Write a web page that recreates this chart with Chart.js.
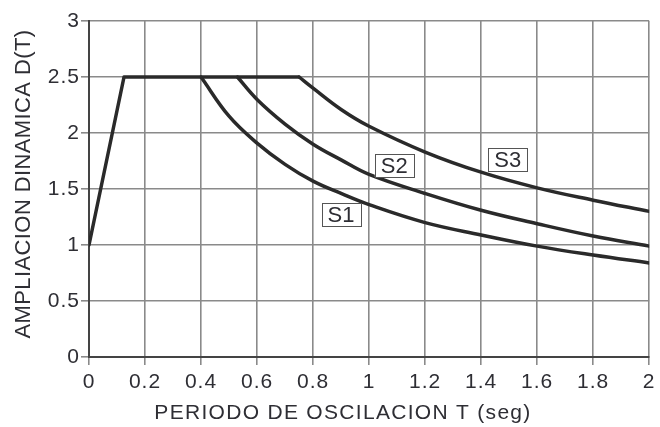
<!DOCTYPE html>
<html>
<head>
<meta charset="utf-8">
<script src="https://cdn.jsdelivr.net/npm/chart.js@4/dist/chart.umd.min.js"></script>
<style>
html,body{margin:0;padding:0;background:#fff}
#wrap{width:660px;height:427px}
</style>
</head>
<body>
<div id="wrap"><canvas id="c" width="660" height="427"></canvas></div>
<script>
// DATOS
// tramo comun: subida y meseta
const rampaT=[0,0.125,0.75];
const rampaD=[1,2.5,2.5];
// ramas descendentes
const s1T=[0.4,0.5,0.6,0.7,0.8,0.9,1.0,1.2,1.4,1.6,1.8,2.0];
const s1D=[2.5,2.15,1.91,1.72,1.57,1.46,1.36,1.20,1.09,0.99,0.91,0.84];
const s2T=[0.53,0.6,0.7,0.8,0.9,1.0,1.2,1.4,1.6,1.8,2.0];
const s2D=[2.5,2.3,2.08,1.9,1.76,1.63,1.46,1.31,1.19,1.08,0.99];
const s3T=[0.75,0.8,0.9,1.0,1.2,1.4,1.6,1.8,2.0];
const s3D=[2.5,2.40,2.21,2.06,1.83,1.65,1.51,1.40,1.30];
const etiquetas=['S1','S2','S3'];
const etiquetaT=[0.90,1.09,1.495];
const etiquetaD=[1.27,1.71,1.76];
const tituloX='PERIODO DE OSCILACION T (seg)';
const tituloY='AMPLIACION DINAMICA D(T)';

const pts=(t,d)=>t.map((x,i)=>({x:x,y:d[i]}));
const lineCol='#2a2a2a';
const txtCol='#2e2e34';
const font="'Liberation Sans', Arial, sans-serif";

function serie(t,d,tension){
  return {data:pts(t,d),showLine:true,borderColor:lineCol,borderWidth:3.5,pointRadius:0,
    tension:tension,borderCapStyle:'round',borderJoinStyle:'round'};
}

// espaciado de letras para los textos de los ejes
const espaciado={
  id:'espaciado',
  beforeDraw(chart){chart.ctx.letterSpacing='1px'}
};

// titulos de ejes y cajas S1/S2/S3
const cajas={
  id:'cajas',
  afterDraw(chart){
    const {ctx,scales:{x,y}}=chart;
    ctx.save();
    ctx.fillStyle=txtCol;
    ctx.textAlign='center';ctx.textBaseline='middle';
    ctx.font="21px "+font;ctx.letterSpacing='1.3px';
    ctx.fillText(tituloX,343,413);
    ctx.save();
    ctx.translate(24,184);ctx.rotate(-Math.PI/2);
    ctx.font="22px "+font;ctx.letterSpacing='0.4px';
    ctx.fillText(tituloY,0,0);
    ctx.restore();
    ctx.font="22px "+font;ctx.letterSpacing='0px';
    etiquetas.forEach((s,i)=>{
      const cx=x.getPixelForValue(etiquetaT[i]);
      const cy=y.getPixelForValue(etiquetaD[i]);
      const w=39,h=23;
      ctx.fillStyle='#fff';
      ctx.fillRect(cx-w/2,cy-h/2,w,h);
      ctx.strokeStyle='#555';ctx.lineWidth=1;
      ctx.strokeRect(Math.round(cx-w/2)+0.5,Math.round(cy-h/2)+0.5,w,h);
      ctx.fillStyle=txtCol;
      ctx.fillText(s,cx,cy+1);
    });
    ctx.restore();
  }
};

new Chart(document.getElementById('c'),{
  type:'scatter',
  data:{datasets:[serie(rampaT,rampaD,0),serie(s1T,s1D,0.4),serie(s2T,s2D,0.4),serie(s3T,s3D,0.4)]},
  options:{
    responsive:false,animation:false,
    layout:{padding:{top:21,right:9,left:0,bottom:0}},
    plugins:{legend:{display:false},tooltip:{enabled:false}},
    scales:{
      x:{type:'linear',min:0,max:2,
        ticks:{stepSize:0.2,color:txtCol,font:{family:font,size:21},padding:5,maxRotation:0,
          callback:v=>String(Math.round(v*10)/10)},
        grid:{color:'#8a8a8a',lineWidth:1.6,tickLength:8},
        border:{color:'#444',width:2},
        afterFit(s){s.height=70}
      },
      y:{min:0,max:3,
        ticks:{stepSize:0.5,color:txtCol,font:{family:font,size:21},padding:1,
          callback:v=>String(Math.round(v*10)/10)},
        grid:{color:'#8a8a8a',lineWidth:1.6,tickLength:8},
        border:{color:'#444',width:2},
        afterFit(s){s.width=89}
      }
    }
  },
  plugins:[espaciado,cajas]
});
</script>
</body>
</html>
